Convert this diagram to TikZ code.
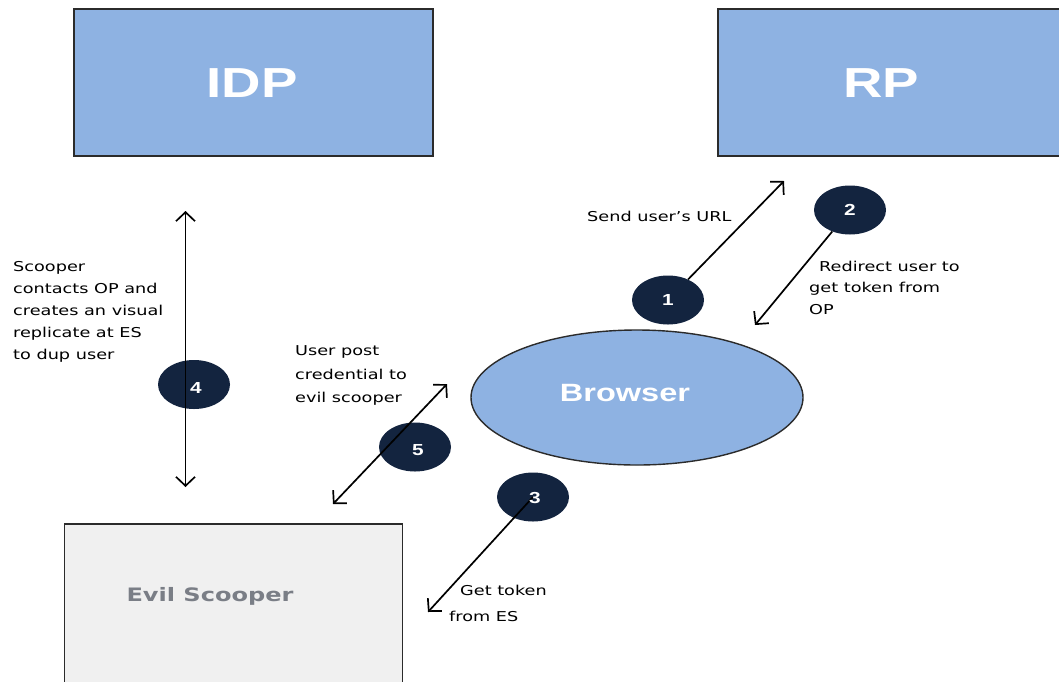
\documentclass[tikz,border=0pt]{standalone}
\usepackage{fontspec}
\setmainfont{DejaVu Sans}[FakeStretch=1.3]
\newfontfamily\lblfont{Liberation Sans}[FakeStretch=1.3]
\usetikzlibrary{shapes.geometric,arrows.meta}
\definecolor{boxblue}{HTML}{8EB2E2}
\definecolor{navy}{HTML}{13243F}
\definecolor{edge}{HTML}{2B2B2B}
\definecolor{evilfill}{HTML}{F0F0F0}
\definecolor{eviltext}{HTML}{7A7E86}
\tikzset{
  bluebox/.style={draw=edge, line width=1.8pt, fill=boxblue, rectangle, inner sep=0pt},
  evilbox/.style={draw=edge, line width=1.6pt, fill=evilfill, rectangle, inner sep=0pt},
  bigtxt/.style={text=white, font=\lblfont\bfseries\fontsize{42}{42}\selectfont, inner sep=0pt},
  browsertxt/.style={text=white, font=\lblfont\bfseries\fontsize{25}{25}\selectfont},
  numfont/.style={text=white, font=\lblfont\bfseries\fontsize{16}{16}\selectfont},
  numcirc/.style={ellipse, fill=navy, minimum width=72pt, minimum height=49pt, inner sep=0pt, numfont},
  note/.style={inner sep=0pt, anchor=north west, align=left, text=black,
               font=\fontsize{13.6}{22}\selectfont},
  arr/.style={draw=black, line width=1.7pt, {Straight Barb[length=9pt,width=19pt]}-{Straight Barb[length=9pt,width=19pt]}},
  arrend/.style={draw=black, line width=1.7pt, -{Straight Barb[length=9pt,width=19pt]}}
}
\begin{document}
\begin{tikzpicture}[x=1pt,y=-1pt]
\clip (0,0) rectangle (1059,681);
\fill[white] (0,0) rectangle (1059,681);

% boxes
\node[bluebox, minimum width=359pt, minimum height=147pt] (idp) at (253.5,82.5) {};
\node[bigtxt] (idpt) at (252,83) {IDP};
\node[bluebox, minimum width=362pt, minimum height=147pt] (rp) at (899,82.5) {};
\node[bigtxt] (rpt) at (881,83) {RP};
\node[evilbox, minimum width=338pt, minimum height=200pt] (es) at (233.5,624) {};
\node[inner sep=0pt, text=eviltext, font=\bfseries\fontsize{18.5}{19}\selectfont] (est) at (210,596) {Evil Scooper};

% browser
\node[ellipse, draw=edge, line width=1.4pt, fill=boxblue, minimum width=332pt, minimum height=135pt, inner sep=0pt] (br) at (637,397.5) {};
\node[browsertxt, inner sep=0pt] (brt) at (625,393) {Browser};

% arrow end points
\coordinate (a1e) at (784,181);
\coordinate (a2e) at (755,325);
\coordinate (a3e) at (428,612);
\coordinate (a4t) at (185.5,211);
\coordinate (a4b) at (185.5,487);
\coordinate (a5t) at (447,384);
\coordinate (a5b) at (333,504);

% circles 1,2 (arrows under them)
\node[numcirc] (c1) at (668,300) {1};
\node[numcirc] (c2) at (850,210) {2};
\draw[arrend] (c1) -- (a1e);
\draw[arrend] (c2) -- (a2e);

% circles 3,4,5 with arrows on top
\node[numcirc] (c3) at (533,497) {};
\node[numcirc] (c4) at (194,384.5) {};
\node[numcirc] (c5) at (415,447) {};
\draw[arrend] (c3.center) -- (a3e);
\draw[arr] (a4t) -- (a4b);
\draw[arr] (a5b) -- (a5t);
\node[numfont, inner sep=0pt] (n3) at (535,498) {3};
\node[numfont, inner sep=0pt] (n4) at (196,388) {4};
\node[numfont, inner sep=0pt] (n5) at (418,450) {5};

% notes
\node[note] (t1) at (587,211) {Send user's URL};
\node[note, font=\fontsize{13.6}{21.5}\selectfont] (t2) at (809,260.5) {\hspace*{10pt}Redirect user to\\get token from\\OP};
\node[note, font=\fontsize{13.6}{22}\selectfont] (t4) at (13,261.5) {Scooper\\contacts OP and\\creates an visual\\replicate at ES\\to dup user};
\node[note, font=\fontsize{13.6}{23.5}\selectfont] (t5) at (295,345.5) {User post\\credential to\\evil scooper};
\node[note, font=\fontsize{13.6}{26.5}\selectfont] (t3) at (449,584.5) {\hspace*{11pt}Get token\\from ES};
\end{tikzpicture}
\end{document}
